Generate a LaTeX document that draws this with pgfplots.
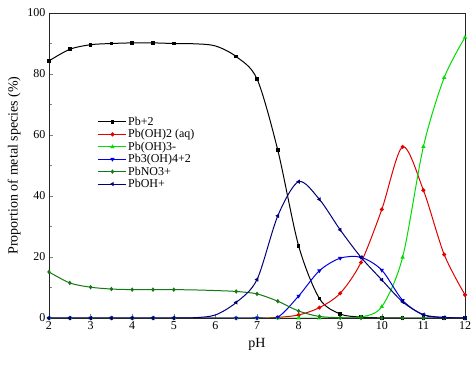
\documentclass[border=0pt]{standalone}
\usepackage{fontspec}
\setmainfont{Liberation Serif}
\usepackage{pgfplots}
\pgfplotsset{compat=1.18}
\definecolor{cRed}{RGB}{225,0,0}
\definecolor{cLG}{RGB}{0,220,0}
\definecolor{cBlue}{RGB}{0,0,225}
\definecolor{cDG}{RGB}{20,120,20}
\definecolor{cNavy}{RGB}{0,0,120}
\begin{document}
\begin{tikzpicture}
\begin{axis}[
  scale only axis, width=416bp, height=305bp,
  at={(0,0)}, anchor=south west,
  xmin=2, xmax=12, ymin=0, ymax=100,
  xtick={2,3,...,12}, ytick={0,20,...,100},
  minor ytick={10,30,50,70,90},
  xtick pos=left, ytick pos=left,
  tick align=inside,
  major tick length=4bp, minor tick length=3bp,
  /pgf/number format/assume math mode=true,
  tick label style={font=\fontsize{12bp}{14bp}\selectfont},
  xlabel={pH}, ylabel={Proportion of metal species (\%)},
  label style={font=\fontsize{14bp}{16bp}\selectfont},
  xlabel style={yshift=-2bp},
  axis line style={line width=0.9bp, black!85},
  legend style={at={(0.11,0.67)}, anchor=north west, draw=none, fill=none,
    font=\fontsize{12bp}{14bp}\selectfont, row sep=0.2bp,
    nodes={inner sep=1.2bp}},
  legend cell align=left,
  legend image code/.code={\draw[mark indices={2}] plot coordinates {(0bp,0bp)(14bp,0bp)(28bp,0bp)};},
  every axis plot/.append style={line width=1bp, smooth, tension=0.5,
     mark size=1.5bp, mark indices={1,2,3,4,5,6,7,10,11,12,13,14,15,16,17,18,19,20,21}},
  clip=true,
]
\addplot[black, mark=square*, mark size=1.3bp] coordinates {
(2,84.3)(2.5,88.1)(3,89.6)(3.5,90.0)(4,90.2)(4.5,90.2)(5,90.0)(5.5,89.9)(6,89.2)(6.5,85.7)(7,78.4)(7.5,55)(8,23.7)(8.5,6.4)(9,1.3)(9.5,0.3)(10,0.05)(10.5,0)(11,0)(11.5,0)(12,0)};
\addlegendentry{Pb+2}
\addplot[cRed, mark=*] coordinates {
(2,0)(2.5,0)(3,0)(3.5,0)(4,0)(4.5,0)(5,0)(5.5,0)(6,0)(6.5,0)(7,0)(7.5,0.2)(8,1.0)(8.5,3.4)(9,8.1)(9.5,18.2)(10,35.6)(10.5,56.1)(11,41.9)(11.5,20.8)(12,7.6)};
\addlegendentry{Pb(OH)2 (aq)}
\addplot[cLG, mark=triangle*] coordinates {
(2,0)(2.5,0)(3,0)(3.5,0)(4,0)(4.5,0)(5,0)(5.5,0)(6,0)(6.5,0)(7,0)(7.5,0)(8,0)(8.5,0)(9,0.02)(9.5,0.3)(10,3.7)(10.5,19.9)(11,56.2)(11.5,78.8)(12,92)};
\addlegendentry{Pb(OH)3-}
\addplot[cBlue, mark=triangle*, mark options={rotate=180}] coordinates {
(2,0)(2.5,0)(3,0)(3.5,0)(4,0)(4.5,0)(5,0)(5.5,0)(6,0)(6.5,0)(7,0.02)(7.5,0.3)(8,7.2)(8.5,15.5)(9,19.6)(9.5,19.9)(10,15.7)(10.5,5.8)(11,1.0)(11.5,0.1)(12,0)};
\addlegendentry{Pb3(OH)4+2}
\addplot[cDG, mark=diamond*] coordinates {
(2,15.1)(2.5,11.5)(3,10.1)(3.5,9.5)(4,9.3)(4.5,9.3)(5,9.3)(5.5,9.2)(6,9.0)(6.5,8.7)(7,7.9)(7.5,5.5)(8,2.3)(8.5,0.5)(9,0.1)(9.5,0)(10,0)(10.5,0)(11,0)(11.5,0)(12,0)};
\addlegendentry{PbNO3+}
\addplot[cNavy, mark=triangle*, mark options={rotate=90}] coordinates {
(2,0)(2.5,0)(3,0)(3.5,0)(4,0)(4.5,0)(5,0)(5.5,0.1)(6,1.0)(6.5,5.1)(7,12.6)(7.5,33.5)(8,44.7)(8.5,38.9)(9,28.9)(9.5,19.9)(10,12.5)(10.5,5.3)(11,1.1)(11.5,0.2)(12,0)};
\addlegendentry{PbOH+}
\end{axis}
\pgfresetboundingbox
\useasboundingbox (-49bp,-48bp) rectangle (425bp,318bp);
\end{tikzpicture}
\end{document}
